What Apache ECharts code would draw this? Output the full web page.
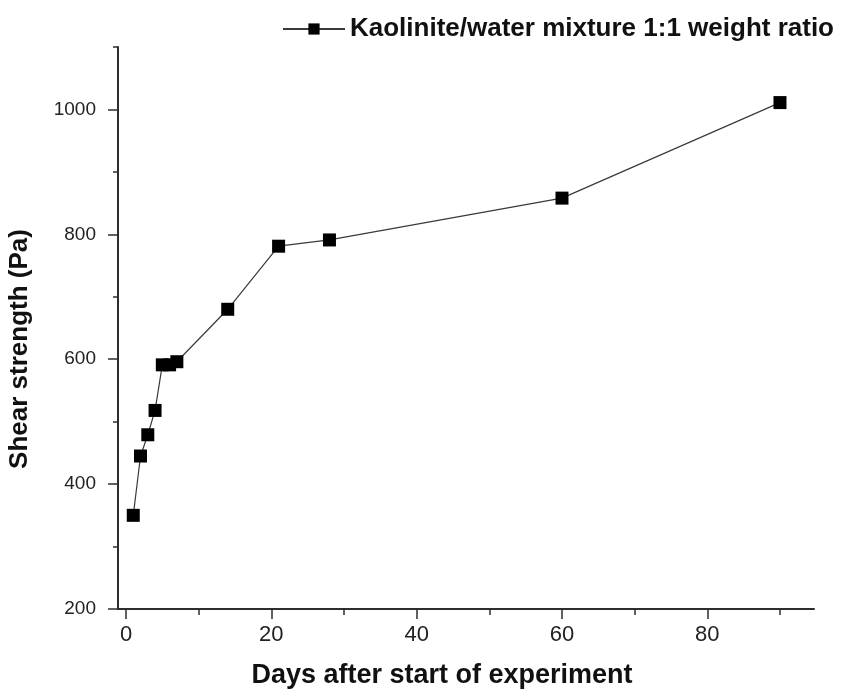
<!DOCTYPE html>
<html>
<head>
<meta charset="utf-8">
<script src="https://cdn.jsdelivr.net/npm/echarts@6/dist/echarts.min.js"></script>
<style>html,body{margin:0;padding:0;background:#fff;}#c{width:844px;height:692px;}</style>
</head>
<body>
<div id="c"></div>
<script>
const seriesName = 'Kaolinite/water mixture 1:1 weight ratio';
const days = [1, 2, 3, 4, 5, 6, 7, 14, 21, 28, 60, 90];
const shear = [350, 445, 479, 518, 591, 591, 596, 680, 781, 791, 858, 1011];
const xMajorTicks = [0, 20, 40, 60, 80];
const xMinorTicks = [10, 30, 50, 70, 90];
const yMajorTicks = [200, 400, 600, 800, 1000];
const yMinorTicks = [300, 500, 700, 900, 1100];
const xTitle = 'Days after start of experiment';
const yTitle = 'Shear strength (Pa)';

const FONT = "'Liberation Sans', Arial, sans-serif";
const AX = '#2e2e2e';
const chart = echarts.init(document.getElementById('c'));
const xRange = {min: -1.1, max: 94.68};
const yRange = {min: 200, max: 1100};
const plain = v => String(v);

chart.setOption({
  animation: false,
  backgroundColor: '#fff',
  grid: {left: 118, right: 30, top: 47, bottom: 83, containLabel: false, outerBoundsMode: 'none'},
  legend: {
    left: 277, top: 11,
    itemWidth: 62, itemHeight: 14,
    textStyle: {fontFamily: FONT, fontSize: 26, fontWeight: 'bold', color: '#111'},
    data: [seriesName]
  },
  xAxis: [{
    type: 'value', gridIndex: 0, position: 'bottom', ...xRange,
    name: xTitle, nameLocation: 'middle', nameGap: 53,
    nameTextStyle: {fontFamily: FONT, fontSize: 27, fontWeight: 'bold', color: '#111', padding: [0, 48, 0, 0]},
    axisLine: {show: true, onZero: false, lineStyle: {color: AX, width: 2}},
    axisTick: {show: true, length: 10, customValues: xMajorTicks, lineStyle: {color: AX, width: 1.5}},
    axisLabel: {customValues: xMajorTicks, margin: 15, fontFamily: FONT, fontSize: 22, color: '#222', formatter: plain},
    splitLine: {show: false}
  }, {
    type: 'value', gridIndex: 0, position: 'bottom', ...xRange,
    axisLine: {show: false, onZero: false},
    axisTick: {show: true, length: 6, customValues: xMinorTicks, lineStyle: {color: AX, width: 1.5}},
    axisLabel: {show: false},
    splitLine: {show: false}
  }],
  yAxis: [{
    type: 'value', gridIndex: 0, position: 'left', ...yRange,
    name: yTitle, nameLocation: 'middle', nameGap: 85, nameRotate: 90,
    nameTextStyle: {fontFamily: FONT, fontSize: 26, fontWeight: 'bold', color: '#111', padding: [0, 42, 0, 0]},
    axisLine: {show: true, onZero: false, lineStyle: {color: AX, width: 2}},
    axisTick: {show: true, length: 10, customValues: yMajorTicks, lineStyle: {color: AX, width: 1.5}},
    axisLabel: {customValues: yMajorTicks, margin: 22, fontFamily: FONT, fontSize: 19, color: '#222', formatter: plain},
    splitLine: {show: false}
  }, {
    type: 'value', gridIndex: 0, position: 'left', ...yRange,
    axisLine: {show: false, onZero: false},
    axisTick: {show: true, length: 5, customValues: yMinorTicks, lineStyle: {color: AX, width: 1.5}},
    axisLabel: {show: false},
    splitLine: {show: false}
  }],
  series: [{
    name: seriesName,
    type: 'line',
    xAxisIndex: 0, yAxisIndex: 0,
    data: days.map((d, i) => [d, shear[i]]),
    symbol: 'rect', symbolSize: 13,
    itemStyle: {color: '#000'},
    lineStyle: {color: '#3a3a3a', width: 1.2},
    z: 3
  }]
});
</script>
</body>
</html>
